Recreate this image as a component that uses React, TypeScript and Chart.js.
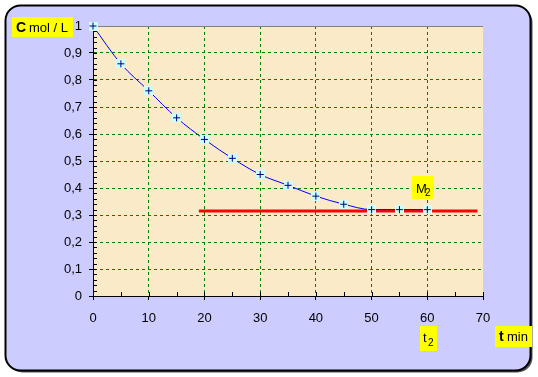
import React, { useEffect, useRef } from 'react';
import { Chart, registerables } from 'chart.js';
Chart.register(...registerables);

// Data
const times = [0, 5, 10, 15, 20, 25, 30, 35, 40, 45, 50, 55, 60];
const concentrations = [1, 0.86, 0.76, 0.66, 0.58, 0.51, 0.45, 0.41, 0.37, 0.34, 0.32, 0.32, 0.32];
const plateauTimes = [19, 69];
const plateauValues = [0.315, 0.315];
const xRange = [0, 70];
const xStep = 10;
const xMinorStep = 5;
const yRange = [0, 1];
const yStep = 0.1;
const yMinorStep = 0.02;

const FONT = '"Liberation Sans", Arial, sans-serif';

function roundRect(ctx: CanvasRenderingContext2D, x: number, y: number, w: number, h: number, r: number) {
  ctx.beginPath();
  ctx.moveTo(x + r, y);
  ctx.lineTo(x + w - r, y);
  ctx.arcTo(x + w, y, x + w, y + r, r);
  ctx.lineTo(x + w, y + h - r);
  ctx.arcTo(x + w, y + h, x + w - r, y + h, r);
  ctx.lineTo(x + r, y + h);
  ctx.arcTo(x, y + h, x, y + h - r, r);
  ctx.lineTo(x, y + r);
  ctx.arcTo(x, y, x + r, y, r);
  ctx.closePath();
}

export default function App() {
  const ref = useRef<HTMLCanvasElement>(null);
  useEffect(() => {
    const canvas = ref.current!;
    const marker = document.createElement('canvas');
    marker.width = 9;
    marker.height = 9;
    const m = marker.getContext('2d')!;
    m.fillStyle = '#ccffff';
    m.fillRect(0, 0, 9, 9);
    m.fillStyle = '#000080';
    m.fillRect(1, 4, 7, 1);
    m.fillRect(4, 1, 1, 7);

    const panelPlugin = {
      id: 'panel',
      beforeDraw(chart: any) {
        const ctx: CanvasRenderingContext2D = chart.ctx;
        const { left, top, right, bottom } = chart.chartArea;
        ctx.save();
        roundRect(ctx, 7.5, 7.5, 525, 365, 15);
        ctx.fillStyle = '#505050';
        ctx.fill();
        roundRect(ctx, 5.5, 5.5, 525, 365, 15);
        ctx.fillStyle = '#ccccff';
        ctx.fill();
        ctx.lineWidth = 2;
        ctx.strokeStyle = '#000000';
        ctx.stroke();
        ctx.fillStyle = '#fbeac8';
        ctx.fillRect(left, top, right - left, bottom - top);
        ctx.restore();
      },
      beforeDatasetsDraw(chart: any) {
        const ctx: CanvasRenderingContext2D = chart.ctx;
        const { left, top, right, bottom } = chart.chartArea;
        const xs = chart.scales.x;
        const ys = chart.scales.y;
        ctx.save();
        ctx.strokeStyle = '#808080';
        ctx.lineWidth = 1;
        ctx.beginPath();
        ctx.moveTo(left, top + 0.5);
        ctx.lineTo(right, top + 0.5);
        ctx.stroke();
        ctx.strokeStyle = '#000000';
        ctx.beginPath();
        for (let v = xRange[0]; v <= xRange[1] + 1e-9; v += xMinorStep) {
          const px = Math.round(xs.getPixelForValue(v)) + 0.5;
          ctx.moveTo(px, bottom);
          ctx.lineTo(px, bottom - 4);
        }
        const n = Math.round((yRange[1] - yRange[0]) / yMinorStep);
        for (let i = 0; i <= n; i++) {
          const v = yRange[0] + i * yMinorStep;
          const py = Math.round(ys.getPixelForValue(v)) + 0.5;
          ctx.moveTo(left, py);
          ctx.lineTo(left + 4, py);
        }
        ctx.stroke();
        ctx.restore();
      },
      afterDraw(chart: any) {
        const ctx: CanvasRenderingContext2D = chart.ctx;
        ctx.save();
        ctx.textBaseline = 'alphabetic';
        ctx.textAlign = 'left';
        const box = (x: number, y: number, w: number, h: number) => {
          ctx.fillStyle = '#ffff00';
          ctx.fillRect(x, y, w, h);
          ctx.fillStyle = '#000000';
        };
        // C mol / L
        box(12, 17, 61, 20);
        ctx.font = 'bold 14px ' + FONT;
        ctx.fillText('C', 16, 32);
        ctx.font = '13px ' + FONT;
        ctx.fillText('mol / L', 29, 32);
        // t min
        box(495, 326, 37, 21);
        ctx.font = 'bold 14px ' + FONT;
        ctx.fillText('t', 499, 341);
        ctx.font = '13px ' + FONT;
        ctx.fillText('min', 507, 341);
        // t2
        box(420, 326, 17, 25);
        ctx.font = '13px ' + FONT;
        ctx.fillText('t', 423, 342);
        ctx.font = '10px ' + FONT;
        ctx.fillText('2', 428, 346);
        // M2
        box(412, 176, 22, 23);
        ctx.font = '13px ' + FONT;
        ctx.fillText('M', 416, 193);
        ctx.font = '10px ' + FONT;
        ctx.fillText('2', 425, 196);
        ctx.restore();
      },
    };

    const edgeTransparent = (max: number, min: number) => (c: any) => {
      const v = c.tick ? c.tick.value : null;
      if (v === null) return '#008000';
      if (Math.abs(v - max) < 1e-9 || Math.abs(v - min) < 1e-9) return 'rgba(0,0,0,0)';
      return '#008000';
    };

    const chart = new Chart(canvas, {
      type: 'line',
      data: {
        datasets: [
          {
            data: plateauTimes.map((t, i) => ({ x: t, y: plateauValues[i] })),
            borderColor: '#ff0000',
            borderWidth: 3,
            pointRadius: 0,
            order: 2,
            clip: false as any,
          },
          {
            data: times.map((t, i) => ({ x: t, y: concentrations[i] })),
            borderColor: '#0000ff',
            borderWidth: 1,
            cubicInterpolationMode: 'monotone',
            pointStyle: marker as any,
            pointRadius: 5,
            order: 1,
            clip: false as any,
          },
        ],
      },
      options: {
        animation: false,
        responsive: false,
        devicePixelRatio: 1,
        layout: { padding: { left: 0, top: 26, right: 55, bottom: 0 } },
        plugins: { legend: { display: false }, tooltip: { enabled: false } },
        scales: {
          x: {
            type: 'linear',
            min: xRange[0],
            max: xRange[1],
            ticks: {
              stepSize: xStep,
              color: '#000000',
              font: { family: FONT, size: 13 },
              padding: 11,
              maxRotation: 0,
            },
            grid: {
              color: edgeTransparent(xRange[1], xRange[0]),
              tickColor: '#000000',
              tickLength: 4,
              lineWidth: 1,
            },
            border: { display: true, color: '#000000', width: 1, dash: [3, 3] },
            afterFit: (s: any) => {
              s.height = 81;
            },
          },
          y: {
            type: 'linear',
            min: yRange[0],
            max: yRange[1],
            ticks: {
              stepSize: yStep,
              color: '#000000',
              font: { family: FONT, size: 13 },
              padding: 7,
              callback: (v: any) => {
                const r = Math.round(Number(v) * 10) / 10;
                return String(r).replace('.', ',');
              },
            },
            grid: {
              color: edgeTransparent(yRange[1], yRange[0]),
              tickColor: '#000000',
              tickLength: 4,
              lineWidth: 1,
            },
            border: { display: true, color: '#000000', width: 1, dash: [3, 3] },
            afterFit: (s: any) => {
              s.width = 93;
            },
          },
        },
      },
      plugins: [panelPlugin],
    } as any);
    return () => chart.destroy();
  }, []);

  return (
    <div style={{ position: 'absolute', left: 0, top: 0, width: 538, height: 377, background: '#ffffff' }}>
      <canvas ref={ref} width={538} height={377} style={{ display: 'block' }} />
    </div>
  );
}
